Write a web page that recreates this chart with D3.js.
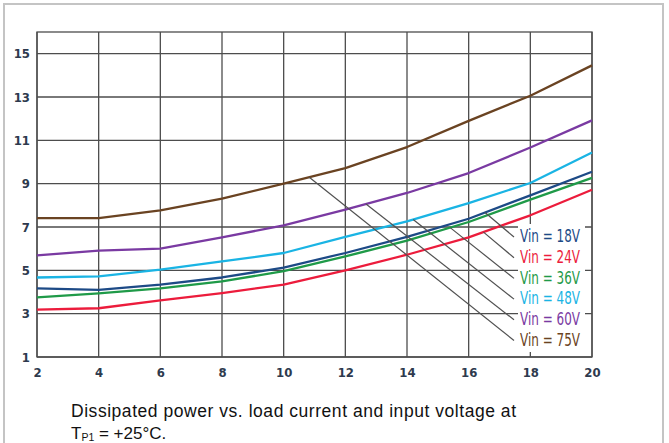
<!DOCTYPE html>
<html>
<head>
<meta charset="utf-8">
<script src="https://cdn.jsdelivr.net/npm/d3@7"></script>
<style>
  html, body { margin: 0; padding: 0; background: #fff; }
  svg { display: block; }
</style>
</head>
<body>
<svg id="chart" width="669" height="443"></svg>
<script>
// Load current (A) on the x axis
const loadCurrent = [2, 4, 6, 8, 10, 12, 14, 16, 18, 20];

// Dissipated power (W) for each input voltage
const vin18 = [4.17, 4.10, 4.34, 4.67, 5.13, 5.80, 6.54, 7.38, 8.46, 9.55];
const vin24 = [3.19, 3.25, 3.61, 3.95, 4.34, 5.00, 5.72, 6.52, 7.54, 8.72];
const vin36 = [3.75, 3.94, 4.17, 4.49, 4.96, 5.64, 6.37, 7.23, 8.26, 9.27];
const vin48 = [4.67, 4.72, 5.03, 5.41, 5.80, 6.54, 7.26, 8.10, 9.03, 10.44];
const vin60 = [5.69, 5.91, 6.00, 6.52, 7.08, 7.80, 8.57, 9.49, 10.67, 11.92];
const vin75 = [7.41, 7.41, 7.77, 8.31, 9.00, 9.72, 10.69, 11.90, 13.06, 14.46];

const seriesLabels = ["Vin = 18V", "Vin = 24V", "Vin = 36V", "Vin = 48V", "Vin = 60V", "Vin = 75V"];
const seriesColors = ["#1d4a86", "#ec1c3c", "#1f9a48", "#1ab4e4", "#7a3aa2", "#6a4322"];
// Load current where each label's leader line meets its curve
const leaderAt = [16.53, 16.48, 15.4, 14.2, 12.67, 10.83];

const xTicks = [2, 4, 6, 8, 10, 12, 14, 16, 18, 20];
const yTicks = [1, 3, 5, 7, 9, 11, 13, 15];

const seriesValues = [vin18, vin24, vin36, vin48, vin60, vin75];

const svg = d3.select("#chart");

// Outer frame
svg.append("rect")
  .attr("x", 4).attr("y", 4).attr("width", 659).attr("height", 460)
  .attr("fill", "none").attr("stroke", "#c4c4c4").attr("stroke-width", 2);

const plot = { left: 37, right: 592, top: 32, bottom: 357 };
const x = d3.scaleLinear().domain([2, 20]).range([plot.left, plot.right]);
const y = d3.scaleLinear().domain([1, 16]).range([plot.bottom, plot.top]);

const gridColor = "#4d4d4d";
const tickTextColor = "#2e3a4e";

// Grid
const grid = svg.append("g");
grid.selectAll("line.v").data(xTicks).join("line")
  .attr("x1", d => x(d)).attr("x2", d => x(d))
  .attr("y1", plot.top).attr("y2", plot.bottom)
  .attr("stroke", gridColor).attr("stroke-width", 1.3);
grid.selectAll("line.h").data(yTicks).join("line")
  .attr("x1", plot.left).attr("x2", plot.right)
  .attr("y1", d => y(d)).attr("y2", d => y(d))
  .attr("stroke", gridColor).attr("stroke-width", 1.3);
grid.append("rect")
  .attr("x", plot.left).attr("y", plot.top)
  .attr("width", plot.right - plot.left).attr("height", plot.bottom - plot.top)
  .attr("fill", "none").attr("stroke", gridColor).attr("stroke-width", 1.3);

// Axes (labels only; lines come from the grid)
const labelFont = "'Liberation Sans Narrow', 'Arial Narrow', 'DejaVu Sans Condensed', sans-serif";
const yAxis = svg.append("g")
  .attr("transform", `translate(${plot.left},0)`)
  .call(d3.axisLeft(y).tickValues(yTicks).tickSize(0).tickPadding(7).tickFormat(d3.format("d")));
yAxis.select(".domain").remove();
yAxis.selectAll("text")
  .attr("fill", tickTextColor).style("font-family", labelFont)
  .style("font-size", "13px").style("font-weight", "bold");

const xAxis = svg.append("g")
  .attr("transform", `translate(0,${plot.bottom})`)
  .call(d3.axisBottom(x).tickValues(xTicks).tickSize(0).tickPadding(11).tickFormat(d3.format("d")));
xAxis.select(".domain").remove();
xAxis.selectAll("text")
  .attr("fill", tickTextColor).style("font-family", labelFont)
  .style("font-size", "13px").style("font-weight", "bold");

// Curves
const line = d3.line()
  .x((d, i) => x(loadCurrent[i]))
  .y(d => y(d));
svg.append("g").selectAll("path").data(seriesValues).join("path")
  .attr("d", d => line(d))
  .attr("fill", "none")
  .attr("stroke", (d, i) => seriesColors[i])
  .attr("stroke-width", 2.3)
  .attr("stroke-linejoin", "round");

// Legend block with white backing over the grid
const legend = { x: 520, top: 236, step: 20.7, boxX: 518, boxY: 224, boxW: 67, boxH: 128 };
svg.append("rect")
  .attr("x", legend.boxX).attr("y", legend.boxY)
  .attr("width", legend.boxW).attr("height", legend.boxH)
  .attr("fill", "#fff");

// Leader lines from each curve to its label
const interp = (vals, xv) => {
  const i = Math.min(Math.max(d3.bisectRight(loadCurrent, xv) - 1, 0), loadCurrent.length - 2);
  const t = (xv - loadCurrent[i]) / (loadCurrent[i + 1] - loadCurrent[i]);
  return vals[i] + t * (vals[i + 1] - vals[i]);
};
svg.append("g").selectAll("line").data(seriesValues).join("line")
  .attr("x1", (d, i) => x(leaderAt[i]))
  .attr("y1", (d, i) => y(interp(d, leaderAt[i])))
  .attr("x2", legend.x - 6)
  .attr("y2", (d, i) => legend.top + i * legend.step + 1)
  .attr("stroke", "#505050").attr("stroke-width", 1.2);

svg.append("g").selectAll("text").data(seriesLabels).join("text")
  .attr("x", legend.x)
  .attr("y", (d, i) => legend.top + i * legend.step)
  .attr("dy", "0.36em")
  .attr("fill", (d, i) => seriesColors[i])
  .attr("textLength", 60).attr("lengthAdjust", "spacingAndGlyphs")
  .style("font-family", labelFont)
  .style("font-size", "17px")
  .text(d => d);

// Caption
const captionFont = "'Liberation Sans', Arial, sans-serif";
svg.append("text")
  .attr("x", 71).attr("y", 416.5)
  .attr("fill", "#111")
  .attr("textLength", 445).attr("lengthAdjust", "spacing")
  .style("font-family", captionFont).style("font-size", "17.5px")
  .text("Dissipated power vs. load current and input voltage at");
const cap2 = svg.append("text")
  .attr("x", 71).attr("y", 438.5)
  .attr("fill", "#111")
  .style("font-family", captionFont).style("font-size", "17px");
cap2.append("tspan").text("T");
cap2.append("tspan").attr("dy", 2).style("font-size", "10.5px").text("P1");
cap2.append("tspan").attr("dy", -2).text(" = +25°C.");
</script>
</body>
</html>
